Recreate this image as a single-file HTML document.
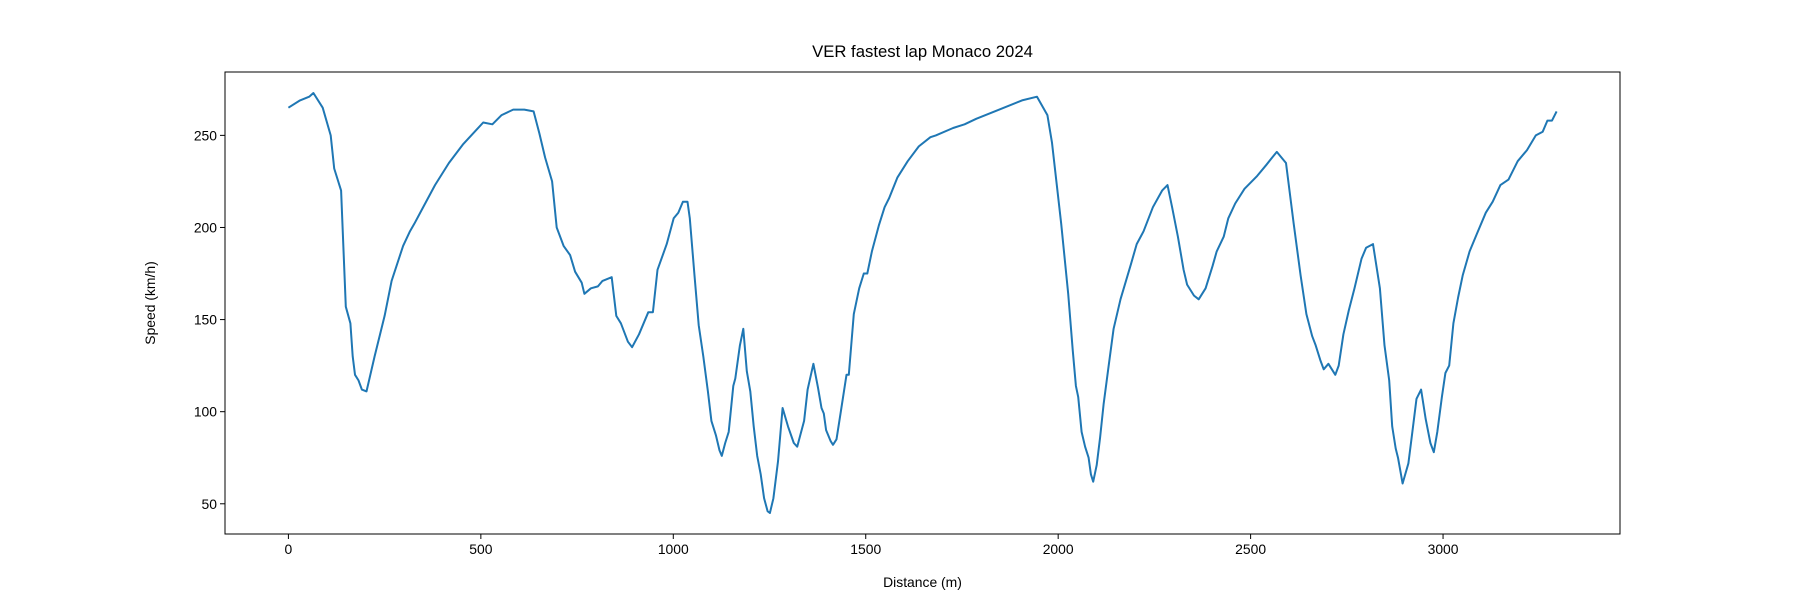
<!DOCTYPE html>
<html><head><meta charset="utf-8"><style>
body{margin:0;background:#fff}
svg text{font-family:"Liberation Sans","DejaVu Sans",sans-serif;fill:#000}
</style></head><body>
<svg id="chart" width="1800" height="600" xmlns="http://www.w3.org/2000/svg">
<rect width="1800" height="600" fill="#fff"/>
<text x="922.5" y="57" font-size="16.7" text-anchor="middle">VER fastest lap Monaco 2024</text>
<text x="922.5" y="587" font-size="13.9" text-anchor="middle">Distance (m)</text>
<text x="0" y="0" font-size="13.9" text-anchor="middle" transform="translate(155,303) rotate(-90)">Speed (km/h)</text>
<g id="ticks"></g>
<path id="line" fill="none" stroke="#1f77b4" stroke-width="2" stroke-linejoin="round"/>
<rect x="225" y="72" width="1395" height="462" fill="none" stroke="#000" stroke-width="1"/>
</svg>
<script>
const distance=[0,30,54,65,89,110,119,137,149,161,167,173,182,191,203,224,250,268,298,316,327,345,381,417,453,506,530,554,584,613,637,652,667,685,697,715,732,745,762,769,786,804,816,840,852,864,882,893,911,935,947,959,983,1001,1013,1025,1037,1043,1055,1066,1078,1090,1099,1111,1120,1126,1135,1144,1156,1161,1173,1182,1191,1200,1209,1218,1227,1236,1245,1251,1260,1272,1284,1298,1313,1322,1340,1349,1364,1376,1385,1391,1397,1409,1415,1424,1436,1450,1456,1469,1483,1495,1504,1516,1534,1549,1561,1582,1609,1638,1668,1682,1727,1757,1787,1847,1906,1945,1972,1984,1996,2008,2026,2038,2046,2052,2061,2070,2079,2085,2091,2100,2109,2118,2130,2144,2162,2189,2204,2222,2246,2270,2284,2296,2311,2326,2335,2353,2365,2383,2401,2412,2430,2442,2460,2484,2517,2541,2556,2568,2592,2612,2630,2645,2660,2669,2681,2690,2702,2720,2729,2741,2755,2770,2788,2800,2818,2836,2848,2860,2868,2877,2883,2889,2895,2910,2919,2931,2943,2955,2967,2976,2985,2997,3006,3016,3027,3039,3051,3069,3087,3111,3129,3149,3170,3194,3218,3241,3259,3271,3283,3295];
const speed=[265,269,271,273,265,250,232,220,157,148,130,120,117,112,111,130,152,171,190,198,202,209,223,235,245,257,256,261,264,264,263,251,238,225,200,190,185,176,170,164,167,168,171,173,152,148,138,135,142,154,154,177,191,205,208,214,214,205,174,147,130,111,95,87,79,76,83,89,114,118,136,145,122,111,92,76,66,53,46,45,53,73,102,92,83,81,95,112,126,113,102,99,90,84,82,85,101,120,120,153,167,175,175,187,201,211,216,227,236,244,249,250,254,256,259,264,269,271,261,246,224,202,164,133,114,108,89,81,75,66,62,71,86,104,123,145,161,180,191,198,211,220,223,211,195,177,169,163,161,167,179,187,195,205,213,221,228,234,238,241,235,202,174,153,141,136,128,123,126,120,125,142,155,167,183,189,191,167,136,117,92,80,75,68,61,72,87,107,112,96,83,78,89,108,121,125,148,162,174,187,196,208,214,223,226,236,242,250,252,258,258,263];
const xTicks=[0,500,1000,1500,2000,2500,3000];
const yTicks=[50,100,150,200,250];
const L=225,R=1620,T=72,B=534;
const dMin=Math.min(...distance),dMax=Math.max(...distance),sMin=Math.min(...speed),sMax=Math.max(...speed);
const xLo=dMin-(dMax-dMin)*0.05,xHi=dMax+(dMax-dMin)*0.05;
const yLo=sMin-(sMax-sMin)*0.05,yHi=sMax+(sMax-sMin)*0.05;
const X=d=>L+(d-xLo)/(xHi-xLo)*(R-L);
const Y=v=>B-(v-yLo)/(yHi-yLo)*(B-T);
const NS='http://www.w3.org/2000/svg';
const g=document.getElementById('ticks');
function mk(tag,attrs){const e=document.createElementNS(NS,tag);for(const k in attrs)e.setAttribute(k,attrs[k]);return e;}
xTicks.forEach(t=>{
  const x=X(t);
  const ln=mk('line',{x1:x,x2:x,y1:B,y2:B+5,stroke:'#000','stroke-width':1});
  
  
  g.appendChild(ln);
  const tx=mk('text',{x:x,y:B+20,'font-size':13.9,'text-anchor':'middle'});
  
  
  tx.textContent=t;g.appendChild(tx);
});
yTicks.forEach(t=>{
  const y=Y(t);
  const ln=mk('line',{x1:L-5,x2:L,y1:y,y2:y,stroke:'#000','stroke-width':1});
  
  
  g.appendChild(ln);
  const tx=mk('text',{x:L-8,y:y+5,'font-size':13.9,'text-anchor':'end'});
  
  
  tx.textContent=t;g.appendChild(tx);
});
document.getElementById('line').setAttribute('d',distance.map((d,i)=>(i?'L':'M')+X(d).toFixed(1)+','+Y(speed[i]).toFixed(1)).join(''));
</script>
</body></html>
